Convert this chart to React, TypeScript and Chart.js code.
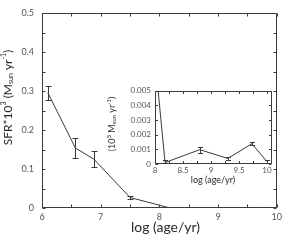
import React, { useEffect, useRef } from "react";
import { Chart, registerables } from "chart.js";
Chart.register(...registerables);

// log(age/yr)
const ageLog = [6.1, 6.57, 6.88, 7.5, 8.18, 8.8, 9.3, 9.73, 10.0];
// SFR * 10^3 (M_sun / yr)
const sfr = [0.296, 0.154, 0.126, 0.027, 0.0001, 0.00098, 0.00038, 0.00138, 0.00017];
const sfrErr = [0.018, 0.026, 0.021, 0.003, 0.0002, 0.0002, 0.0001, 0.0001, 0.0001];

// titles as rich-text parts: [text, kind] where kind: n normal, sup, sub
const mainXTitle = [["log (age/yr)", "n"]];
const mainYTitle = [["SFR*10", "n"], ["3", "sup"], [" (M", "n"], ["sun", "sub"], [" yr", "n"], ["-1", "sup"], [")", "n"]];
const insetXTitle = [["log (age/yr)", "n"]];
const insetYTitle = [["(10", "n"], ["3", "sup"], [" M", "n"], ["sun", "sub"], [" yr", "n"], ["-1", "sup"], [")", "n"]];

const LINE = "#3a3a3a";
const TEXT = "#2a2a2a";
const TICK = "#555";
const FONT = "Lato, 'Open Sans', sans-serif";

function drawRich(ctx: any, parts: string[][], cx: number, cy: number, size: number, rot: number, weight: string) {
  const small = Math.round(size * 0.62);
  const fontFor = (k: string) => `${weight} ${k === "n" ? size : small}px ${FONT}`;
  let total = 0;
  const widths = parts.map(([t, k]) => {
    ctx.font = fontFor(k);
    const w = ctx.measureText(t).width;
    total += w;
    return w;
  });
  ctx.save();
  ctx.translate(cx, cy);
  ctx.rotate(rot);
  ctx.fillStyle = TEXT;
  ctx.textBaseline = "middle";
  ctx.textAlign = "left";
  let x = -total / 2;
  parts.forEach(([t, k], i) => {
    ctx.font = fontFor(k);
    const dy = k === "sup" ? -size * 0.38 : k === "sub" ? size * 0.25 : 0;
    ctx.fillText(t, x, dy);
    x += widths[i];
  });
  ctx.restore();
}

const titlePlugin = {
  id: "richTitles",
  afterDraw(chart: any, _a: any, opts: any) {
    const { ctx } = chart;
    (opts.items || []).forEach((it: any) => {
      drawRich(ctx, it.parts, it.x, it.y, it.size, it.rot || 0, it.weight || "normal");
    });
  },
};

const framePlugin = {
  id: "frameTicks",
  afterDraw(chart: any, _a: any, opts: any) {
    const { ctx, chartArea: ca } = chart;
    const xs = chart.scales.x;
    const ys = chart.scales.y;
    const len = opts.len || 3;
    ctx.save();
    ctx.strokeStyle = LINE;
    ctx.lineWidth = 1;
    const L = Math.round(ca.left) + 0.5;
    const R = Math.round(ca.right) - 0.5;
    const T = Math.round(ca.top) + 0.5;
    const B = Math.round(ca.bottom) - 0.5;
    ctx.beginPath();
    ctx.rect(L, T, R - L, B - T);
    ctx.stroke();
    ctx.beginPath();
    xs.ticks.forEach((t: any) => {
      const px = Math.round(xs.getPixelForValue(t.value)) + 0.5;
      if (px < L - 1 || px > R + 1) return;
      ctx.moveTo(px, B);
      ctx.lineTo(px, B - len);
      ctx.moveTo(px, T);
      ctx.lineTo(px, T + len);
    });
    ys.ticks.forEach((t: any) => {
      const py = Math.round(ys.getPixelForValue(t.value)) + 0.5;
      if (py < T - 1 || py > B + 1) return;
      ctx.moveTo(L, py);
      ctx.lineTo(L + len, py);
      ctx.moveTo(R, py);
      ctx.lineTo(R - len, py);
    });
    ctx.stroke();
    ctx.restore();
  },
};

const errorBarPlugin = {
  id: "errBars",
  afterDatasetsDraw(chart: any, _a: any, opts: any) {
    const { ctx, chartArea: ca } = chart;
    const xs = chart.scales.x;
    const ys = chart.scales.y;
    const cap = opts.cap || 3;
    ctx.save();
    ctx.beginPath();
    ctx.rect(ca.left, ca.top, ca.right - ca.left, ca.bottom - ca.top);
    ctx.clip();
    ctx.strokeStyle = LINE;
    ctx.lineWidth = 1;
    ctx.beginPath();
    ageLog.forEach((xv, i) => {
      const px = Math.round(xs.getPixelForValue(xv)) + 0.5;
      const y1 = Math.round(ys.getPixelForValue(sfr[i] + sfrErr[i])) + 0.5;
      const y2 = Math.round(ys.getPixelForValue(Math.max(0, sfr[i] - sfrErr[i]))) + 0.5;
      ctx.moveTo(px, y1);
      ctx.lineTo(px, y2);
      ctx.moveTo(px - cap, y1);
      ctx.lineTo(px + cap, y1);
      ctx.moveTo(px - cap, y2);
      ctx.lineTo(px + cap, y2);
    });
    ctx.stroke();
    ctx.restore();
  },
};

function makeData() {
  return {
    datasets: [
      {
        data: ageLog.map((x, i) => ({ x, y: sfr[i] })),
        borderColor: LINE,
        borderWidth: 1,
        pointRadius: 0,
        tension: 0,
        fill: false,
      },
    ],
  };
}

export default function App() {
  const mainRef = useRef<HTMLCanvasElement>(null);
  const insetRef = useRef<HTMLCanvasElement>(null);

  useEffect(() => {
    const main = new Chart(mainRef.current!, {
      type: "line",
      data: makeData() as any,
      plugins: [framePlugin, errorBarPlugin, titlePlugin],
      options: {
        responsive: false,
        animation: false,
        devicePixelRatio: 1,
        layout: { padding: { top: 5, right: 6, left: 0, bottom: 0 } },
        plugins: {
          legend: { display: false },
          tooltip: { enabled: false },
          frameTicks: { len: 3 },
          errBars: { cap: 3 },
          richTitles: {
            items: [
              { parts: mainXTitle, x: 165.5, y: 227, size: 14, rot: 0 },
              { parts: mainYTitle, x: 8, y: 97.5, size: 12, rot: -Math.PI / 2 },
            ],
          },
        } as any,
        scales: {
          x: {
            type: "linear",
            min: 6,
            max: 10,
            grid: { display: false, drawTicks: false },
            border: { display: false },
            afterFit: (s: any) => { s.height = 32; },
            ticks: {
              stepSize: 0.5,
              autoSkip: false,
              maxRotation: 0,
              padding: 4,
              color: TICK,
              font: { family: FONT, size: 9 },
              callback: (v: any) => (Math.abs(v - Math.round(v)) < 1e-6 ? String(Math.round(v)) : ""),
            },
          },
          y: {
            type: "linear",
            min: 0,
            max: 0.5,
            grid: { display: false, drawTicks: false },
            border: { display: false },
            afterFit: (s: any) => { s.width = 42; },
            ticks: {
              stepSize: 0.05,
              autoSkip: false,
              padding: 8,
              color: TICK,
              font: { family: FONT, size: 9 },
              callback: (v: any) => {
                const t = v * 10;
                return Math.abs(t - Math.round(t)) < 1e-6 ? String(Math.round(t) / 10) : "";
              },
            },
          },
        },
      } as any,
    });

    const inset = new Chart(insetRef.current!, {
      type: "line",
      data: makeData() as any,
      plugins: [framePlugin, errorBarPlugin, titlePlugin],
      options: {
        responsive: false,
        animation: false,
        devicePixelRatio: 1,
        layout: { padding: { top: 4, right: 4, left: 0, bottom: 0 } },
        plugins: {
          legend: { display: false },
          tooltip: { enabled: false },
          frameTicks: { len: 2.5 },
          errBars: { cap: 2.5 },
          richTitles: {
            items: [
              { parts: insetXTitle, x: 113, y: 98, size: 9, rot: 0 },
              { parts: insetYTitle, x: 12, y: 42, size: 9, rot: -Math.PI / 2 },
            ],
          },
        } as any,
        scales: {
          x: {
            type: "linear",
            min: 8,
            max: 10.09,
            grid: { display: false, drawTicks: false },
            border: { display: false },
            afterFit: (s: any) => { s.height = 24; },
            ticks: {
              stepSize: 0.25,
              includeBounds: false,
              autoSkip: false,
              maxRotation: 0,
              padding: 2,
              color: TICK,
              font: { family: FONT, size: 8 },
              callback: (v: any) => {
                const t = v * 2;
                return Math.abs(t - Math.round(t)) < 1e-6 ? String(Math.round(t) / 2) : "";
              },
            },
          },
          y: {
            type: "linear",
            min: 0,
            max: 0.005,
            grid: { display: false, drawTicks: false },
            border: { display: false },
            afterFit: (s: any) => { s.width = 55; },
            ticks: {
              stepSize: 0.001,
              autoSkip: false,
              padding: 4,
              color: TICK,
              font: { family: FONT, size: 8 },
              callback: (v: any) => {
                const t = Math.round(v * 1000);
                return t === 0 ? "0" : (t / 1000).toFixed(3);
              },
            },
          },
        },
      } as any,
    });

    return () => {
      main.destroy();
      inset.destroy();
    };
  }, []);

  return (
    <div style={{ position: "fixed", left: 0, top: 0, width: 286, height: 240, background: "#fff" }}>
      <canvas ref={mainRef} width={286} height={240} style={{ display: "block", position: "absolute", left: 0, top: 0 }} />
      <canvas ref={insetRef} width={176} height={106} style={{ display: "block", position: "absolute", left: 100, top: 82 }} />
    </div>
  );
}
